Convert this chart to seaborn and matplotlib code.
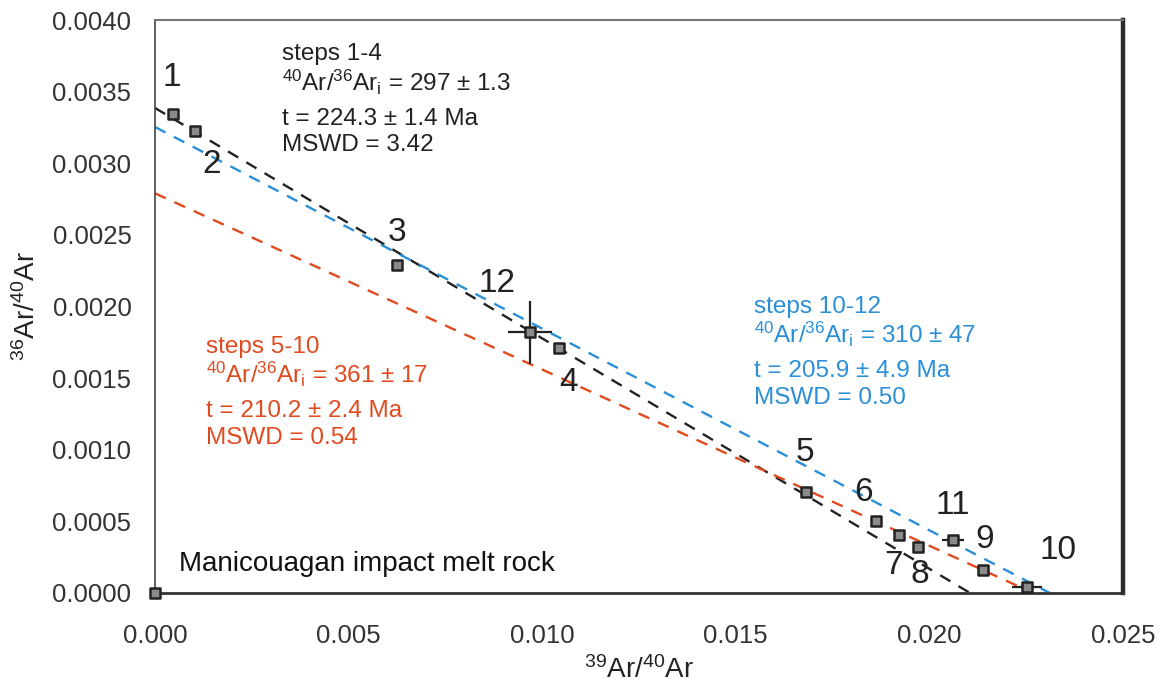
import numpy as np
import pandas as pd
import matplotlib
matplotlib.use("Agg")
import matplotlib.pyplot as plt
import seaborn as sns

# ---- data ----
step_labels = ["0", "1", "2", "3", "12", "4", "5", "6", "7", "8", "11", "9", "10"]
x_39_40 = [0.0, 0.00047, 0.00103, 0.00625, 0.00968, 0.01043, 0.01681, 0.01862, 0.01921, 0.01971, 0.02061, 0.02138, 0.02252]
y_36_40 = [0.0, 0.003344, 0.003225, 0.00229, 0.00182, 0.00171, 0.000705, 0.000503, 0.000405, 0.000321, 0.00037, 0.00016, 0.00004]
x_err = [0, 0, 0, 0, 0.00057, 0, 0, 0, 0, 0, 0.00028, 0, 0.00039]
y_err = [0, 0, 0, 0, 0.00022, 0, 0, 0, 0, 0, 0.00003, 0, 0.00004]

# isochron fits: y-intercept (36Ar/40Ar) and x-intercept (39Ar/40Ar)
fit_names = ["steps 1-4", "steps 5-10", "steps 10-12"]
fit_y_intercept = [0.003386, 0.00279, 0.003253]
fit_x_intercept = [0.02105, 0.02268, 0.02311]
fit_colors = ["#222222", "#e04a1f", "#2a8fd6"]
fit_ratio = ["297 ± 1.3", "361 ± 17", "310 ± 47"]
fit_age = ["224.3 ± 1.4", "210.2 ± 2.4", "205.9 ± 4.9"]
fit_mswd = ["3.42", "0.54", "0.50"]

sns.set_style("white")
plt.rcParams['font.family'] = ['Liberation Sans', 'DejaVu Sans']
plt.rcParams['mathtext.fontset'] = 'custom'
plt.rcParams['mathtext.rm'] = 'Liberation Sans'
plt.rcParams['mathtext.it'] = 'Liberation Sans:italic'
plt.rcParams['mathtext.bf'] = 'Liberation Sans:bold'

fig = plt.figure(figsize=(11.69, 6.95), dpi=100)
ax = fig.add_axes([155/1169, 1 - 593/695, (1123-155)/1169, (593-20)/695])

# isochron lines
for name, yi, xi, c in zip(fit_names, fit_y_intercept, fit_x_intercept, fit_colors):
    df_line = pd.DataFrame({"x": [0.0, xi], "y": [yi, 0.0]})
    sns.lineplot(data=df_line, x="x", y="y", ax=ax, color=c, lw=1.7,
                 linestyle=(0, (5, 4)), zorder=2)

# error bars
for xv, yv, xe, ye in zip(x_39_40, y_36_40, x_err, y_err):
    if xe > 0 or ye > 0:
        ax.errorbar(xv, yv, xerr=xe, yerr=ye, fmt='none', ecolor='#222222',
                    elinewidth=1.6, capsize=0, zorder=3)

df = pd.DataFrame({"x": x_39_40, "y": y_36_40, "step": step_labels})
sns.scatterplot(data=df, x="x", y="y", ax=ax, marker='s', s=55,
                facecolor='#8a8a8a', edgecolor='#222222', linewidth=1.8,
                zorder=4, clip_on=False)

# step labels
label_pos = {
    "1": (0.00044, 0.0036), "2": (0.00147, 0.00299), "3": (0.00625, 0.00252),
    "12": (0.00883, 0.00216), "4": (0.01067, 0.00147), "5": (0.01679, 0.000984),
    "6": (0.01829, 0.000705), "11": (0.02061, 0.000614), "9": (0.02144, 0.00037),
    "7": (0.01906, 0.000195), "8": (0.01976, 0.000126), "10": (0.02332, 0.0003),
}
for lab, (lx, ly) in label_pos.items():
    ax.text(lx, ly, lab, fontsize=24, color='#222222', ha='center', va='center', zorder=5)

# annotation blocks (left x, y of first line) in data coords
block_pos = [(0.00328, 0.00376), (0.00132, 0.00172), (0.01547, 0.00200)]
for (bx, by), name, ratio, age, mswd, c in zip(block_pos, fit_names, fit_ratio, fit_age, fit_mswd, fit_colors):
    dy = 0.000205
    ax.text(bx, by, name, fontsize=17.5, color=c, ha='left', va='center')
    ax.text(bx, by - dy * 0.95, r"$^{40}$Ar/$^{36}$Ar$_{\rm i}$ = " + ratio, fontsize=17.5, color=c,
            ha='left', va='center')
    ax.text(bx, by - dy * 2.2, "t = " + age + " Ma", fontsize=17.5, color=c, ha='left', va='center')
    ax.text(bx, by - dy * 3.1, "MSWD = " + mswd, fontsize=17.5, color=c, ha='left', va='center')

ax.text(0.00061, 0.0002, "Manicouagan impact melt rock", fontsize=20, color='#111111',
        ha='left', va='center')

ax.set_xlim(0, 0.025)
ax.set_ylim(0, 0.004)
ax.set_xticks([0.0, 0.005, 0.010, 0.015, 0.020, 0.025])
ax.set_xticklabels(["0.000", "0.005", "0.010", "0.015", "0.020", "0.025"])
ax.set_yticks(np.arange(0, 0.00401, 0.0005))
ax.set_yticklabels([f"{v:.4f}" for v in np.arange(0, 0.00401, 0.0005)])
ax.tick_params(axis='both', labelsize=18.5, colors='#333333', direction='out', length=7,
               width=1.2, labelcolor='#333333')
ax.tick_params(axis='x', pad=15)
ax.tick_params(axis='y', pad=10)
ax.set_xlabel(r"$^{39}$Ar/$^{40}$Ar", fontsize=20, color='#222222', labelpad=6)
ax.set_ylabel(r"$^{36}$Ar/$^{40}$Ar", fontsize=20, color='#222222', labelpad=8)

for side, lw, col in [("left", 1.2, "#444444"), ("bottom", 2.0, "#333333"),
                      ("top", 1.5, "#777777"), ("right", 3.2, "#2a2a2a")]:
    ax.spines[side].set_visible(True)
    ax.spines[side].set_linewidth(lw)
    ax.spines[side].set_color(col)

fig.savefig("out.png", dpi=100, facecolor='white')
